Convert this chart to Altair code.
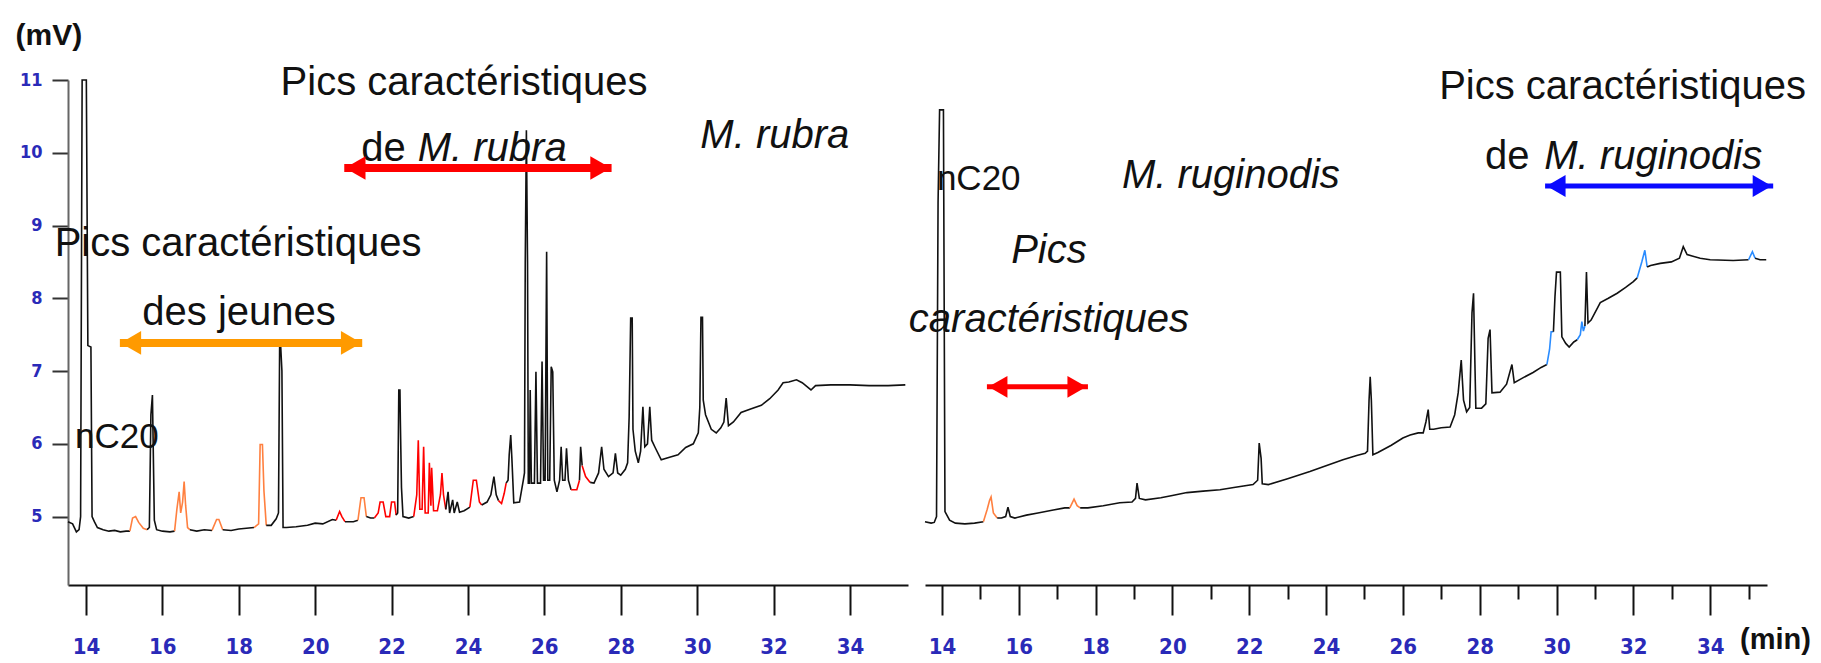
import altair as alt
import pandas as pd

# ---------------- data ----------------
# Left panel : M. rubra  (time in min, signal in mV)
left_t = [13.53, 13.65, 13.75, 13.82, 13.86, 13.90, 13.96, 14.01, 14.05, 14.13, 14.16, 14.22, 14.30,
          14.45, 14.60, 14.75, 14.90, 15.05, 15.15, 15.22, 15.30, 15.38, 15.50, 15.60, 15.66, 15.70,
          15.74, 15.79, 15.85, 16.00, 16.20, 16.32, 16.38, 16.44, 16.48, 16.53, 16.57, 16.61, 16.66,
          16.72, 16.90, 17.10, 17.30, 17.42, 17.48, 17.58, 17.80, 18.00, 18.20, 18.40, 18.52, 18.56,
          18.62, 18.66, 18.72, 18.85, 18.98, 19.04, 19.07, 19.10, 19.13, 19.16, 19.25, 19.50, 19.80,
          20.00, 20.20, 20.45, 20.55, 20.64, 20.70, 20.78, 21.00, 21.12, 21.20, 21.28, 21.34, 21.45,
          21.55, 21.65, 21.70, 21.78, 21.85, 21.95, 22.00, 22.08, 22.12, 22.16, 22.19, 22.22, 22.23,
          22.26, 22.30, 22.45, 22.58, 22.66, 22.70, 22.74, 22.80, 22.84, 22.88, 22.96, 22.99, 23.03,
          23.05, 23.10, 23.20, 23.28, 23.32, 23.36, 23.42, 23.48, 23.52, 23.60, 23.64, 23.72, 23.78,
          23.90, 24.05, 24.14, 24.22, 24.30, 24.36, 24.50, 24.60, 24.68, 24.74, 24.80, 24.88, 24.95,
          25.00, 25.05, 25.08, 25.12, 25.15, 25.20, 25.35, 25.45, 25.48, 25.50, 25.53, 25.56, 25.58,
          25.61, 25.63, 25.66, 25.74, 25.78, 25.82, 25.90, 25.94, 25.98, 26.02, 26.06, 26.09, 26.14,
          26.18, 26.22, 26.26, 26.33, 26.40, 26.44, 26.48, 26.54, 26.58, 26.63, 26.70, 26.85, 26.92,
          26.95, 26.99, 27.08, 27.20, 27.30, 27.42, 27.50, 27.56, 27.68, 27.80, 27.86, 27.92, 28.00,
          28.12, 28.18, 28.22, 28.26, 28.30, 28.32, 28.38, 28.46, 28.52, 28.58, 28.63, 28.70, 28.76,
          28.81, 28.90, 29.06, 29.30, 29.50, 29.70, 29.90, 30.03, 30.07, 30.10, 30.14, 30.16, 30.22,
          30.37, 30.50, 30.62, 30.70, 30.76, 30.82, 30.95, 31.15, 31.40, 31.68, 31.90, 32.12, 32.25,
          32.40, 32.60, 32.75, 32.98, 33.10, 33.50, 34.00, 34.50, 35.00, 35.45]
left_v = [4.93, 4.90, 4.79, 4.82, 5.00, 11.0, 11.0, 11.0, 7.35, 7.33, 5.00, 4.93, 4.85,
          4.82, 4.80, 4.81, 4.79, 4.80, 4.80, 4.98, 5.00, 4.92, 4.84, 4.82, 4.85, 6.40,
          6.67, 4.95, 4.82, 4.80, 4.79, 4.80, 5.10, 5.34, 5.05, 5.20, 5.48, 5.15, 4.85,
          4.82, 4.80, 4.82, 4.81, 4.96, 4.96, 4.82, 4.81, 4.83, 4.84, 4.85, 4.90, 5.99,
          5.99, 5.35, 4.88, 4.88, 4.97, 5.05, 7.32, 7.32, 7.00, 4.85, 4.85, 4.86, 4.88,
          4.91, 4.90, 4.96, 4.95, 5.07, 5.00, 4.93, 4.93, 4.95, 5.26, 5.26, 5.00, 4.98,
          4.98, 5.05, 5.20, 5.20, 5.00, 5.00, 5.20, 5.20, 5.02, 5.05, 6.74, 6.74, 6.33,
          5.40, 5.00, 4.98, 5.00, 5.30, 6.05, 5.10, 5.10, 5.96, 5.05, 5.05, 5.74, 5.15,
          5.67, 5.08, 5.08, 5.30, 5.60, 5.30, 5.10, 5.34, 5.05, 5.23, 5.05, 5.20, 5.06,
          5.08, 5.13, 5.50, 5.50, 5.20, 5.16, 5.20, 5.30, 5.55, 5.30, 5.22, 5.18, 5.32,
          5.46, 5.50, 5.85, 6.12, 5.80, 5.19, 5.20, 5.50, 5.60, 8.49, 10.31, 8.49, 5.46,
          5.46, 6.74, 5.46, 5.46, 6.99, 5.46, 5.46, 7.13, 5.50, 5.50, 8.64, 5.50, 5.50,
          7.06, 6.99, 5.50, 5.34, 5.50, 5.96, 5.50, 5.50, 5.94, 5.50, 5.37, 5.37, 5.50,
          5.96, 5.70, 5.55, 5.47, 5.46, 5.60, 5.96, 5.65, 5.55, 5.60, 5.87, 5.60, 5.57,
          5.65, 5.74, 6.37, 7.73, 7.73, 6.20, 5.90, 5.74, 5.90, 6.51, 5.96, 6.00, 6.51,
          6.05, 5.95, 5.78, 5.82, 5.85, 5.95, 6.00, 6.15, 6.50, 7.74, 7.74, 6.60, 6.40,
          6.20, 6.15, 6.22, 6.30, 6.63, 6.25, 6.30, 6.43, 6.48, 6.53, 6.62, 6.74, 6.84,
          6.85, 6.88, 6.84, 6.74, 6.80, 6.81, 6.81, 6.80, 6.80, 6.81]
left_orange = [(15.15, 15.60), (16.32, 16.72), (17.30, 17.58), (18.40, 18.72), (21.12, 21.34)]
left_red = [(20.55, 20.78), (21.55, 22.12), (22.58, 23.42), (24.05, 24.36), (24.80, 25.00),
            (26.70, 26.92), (26.99, 27.20)]

# Right panel : M. ruginodis
right_t = [13.56, 13.72, 13.80, 13.86, 13.90, 13.94, 14.04, 14.08, 14.20, 14.35, 14.60, 14.85,
           15.08, 15.18, 15.24, 15.28, 15.34, 15.44, 15.55, 15.66, 15.72, 15.78, 15.90, 16.20,
           16.50, 16.90, 17.20, 17.33, 17.44, 17.52, 17.60, 17.80, 18.20, 18.63, 18.95, 19.04,
           19.08, 19.14, 19.30, 19.70, 20.00, 20.38, 20.80, 21.24, 21.60, 22.10, 22.22, 22.26,
           22.31, 22.34, 22.50, 23.00, 23.58, 24.00, 24.44, 24.80, 25.02, 25.08, 25.12, 25.15,
           25.18, 25.22, 25.35, 25.70, 26.00, 26.19, 26.40, 26.53, 26.60, 26.66, 26.70, 26.80,
           27.00, 27.23, 27.35, 27.44, 27.52, 27.58, 27.66, 27.74, 27.80, 27.84, 27.88, 27.90,
           28.05, 28.16, 28.22, 28.27, 28.32, 28.53, 28.70, 28.84, 28.90, 29.10, 29.39, 29.60,
           29.75, 29.82, 29.86, 29.92, 29.96, 30.00, 30.10, 30.14, 30.24, 30.33, 30.45, 30.54,
           30.62, 30.66, 30.70, 30.74, 30.78, 30.82, 30.90, 31.14, 31.35, 31.58, 31.80, 32.00,
           32.10, 32.22, 32.30, 32.36, 32.45, 32.70, 32.99, 33.20, 33.30, 33.40, 33.74, 34.00,
           34.60, 35.00, 35.10, 35.17, 35.30, 35.46]
right_v = [4.93, 4.91, 4.92, 5.00, 9.31, 10.59, 10.59, 5.07, 4.95, 4.91, 4.90, 4.91,
           4.93, 5.10, 5.22, 5.27, 5.05, 4.98, 4.98, 5.00, 5.13, 5.00, 4.98, 5.02,
           5.05, 5.09, 5.12, 5.12, 5.24, 5.15, 5.12, 5.12, 5.15, 5.19, 5.20, 5.25,
           5.46, 5.25, 5.23, 5.26, 5.29, 5.33, 5.35, 5.37, 5.40, 5.44, 5.50, 6.01,
           5.80, 5.45, 5.44, 5.52, 5.62, 5.70, 5.78, 5.84, 5.87, 5.90, 6.60, 6.92,
           6.60, 5.85, 5.88, 5.98, 6.08, 6.12, 6.15, 6.15, 6.30, 6.47, 6.20, 6.20,
           6.22, 6.23, 6.40, 6.70, 7.15, 6.60, 6.44, 6.50, 7.80, 8.07, 7.00, 6.49,
           6.49, 6.55, 7.45, 7.57, 6.70, 6.71, 6.82, 7.09, 6.84, 6.90, 6.98, 7.05,
           7.09, 7.30, 7.54, 7.54, 8.02, 8.36, 8.36, 7.47, 7.38, 7.33, 7.40, 7.43,
           7.50, 7.68, 7.55, 7.62, 8.36, 7.66, 7.70, 7.94, 8.00, 8.07, 8.15, 8.23,
           8.28, 8.50, 8.66, 8.43, 8.45, 8.48, 8.50, 8.55, 8.71, 8.60, 8.55, 8.53,
           8.52, 8.53, 8.64, 8.55, 8.53, 8.53]
right_orange = [(15.08, 15.44), (17.33, 17.60)]
right_blue = [(29.75, 29.92), (30.54, 30.74), (32.10, 32.36), (35.00, 35.17)]

x_ticks = list(range(14, 36))
y_ticks = [5, 6, 7, 8, 9, 10, 11]

# ---------------- styling ----------------
BLACK = "#111111"
ORANGE_TRACE = "#ff8040"
RED = "#ff0000"
BLUE_TRACE = "#2a8cff"
ARROW_ORANGE = "#ff9a00"
ARROW_BLUE = "#0a0aff"
TICK_BLUE = "#2a2ab8"
FONT = "Liberation Sans, Arial, sans-serif"
NARROW = "DejaVu Sans Condensed, Liberation Sans Narrow, Arial Narrow, Liberation Sans, sans-serif"

Y_DOMAIN = [4.06, 11.0]


def trace_frame(ts, vs, ranges):
    """split the trace into runs of the same colour (shared endpoints)."""
    rows, seg, cur = [], 0, None
    for i in range(len(ts) - 1):
        mid = (ts[i] + ts[i + 1]) / 2
        col = BLACK
        for a, b, c in ranges:
            if a <= mid <= b:
                col = c
        if col != cur:
            seg += 1
            cur = col
            rows.append(dict(t=ts[i], v=vs[i], seg=seg, col=col, i=i))
        rows.append(dict(t=ts[i + 1], v=vs[i + 1], seg=seg, col=col, i=i + 1))
    return pd.DataFrame(rows)


def x_axis():
    return alt.Axis(
        values=x_ticks,
        labelExpr="datum.value % 2 == 0 ? datum.label : ''",
        tickSize={"condition": {"test": "datum.value % 2 == 0", "value": 30}, "value": 14},
        tickWidth=2, tickColor=BLACK, domainColor=BLACK, domainWidth=2,
        labelColor=TICK_BLUE, labelFont=NARROW, labelFontSize=22, labelFontWeight="bold",
        labelPadding=21, labelOverlap=False, labelFlush=False, grid=False,
        title=None)


def trace_layer(df, domain, yaxis):
    return alt.Chart(df).mark_line(strokeWidth=1.6, strokeJoin="miter").encode(
        x=alt.X("t:Q", scale=alt.Scale(domain=domain, nice=False, zero=False), axis=x_axis()),
        y=alt.Y("v:Q", scale=alt.Scale(domain=Y_DOMAIN, nice=False, zero=False), axis=yaxis),
        color=alt.Color("col:N", scale=None),
        detail="seg:N",
        order="i:Q",
    )


def text(txt, t, v, size=40, italic=False, align="center", bold=False, baseline="alphabetic"):
    return alt.Chart(pd.DataFrame({"t": [t], "v": [v], "txt": [txt]})).mark_text(
        font=FONT, fontSize=size, fontStyle="italic" if italic else "normal",
        fontWeight="bold" if bold else "normal",
        align=align, baseline=baseline, color=BLACK,
    ).encode(x="t:Q", y="v:Q", text="txt:N")


def arrow(t1, t2, v, color, width, head=560):
    d = pd.DataFrame({"t": [t1], "t2": [t2], "v": [v]})
    base = alt.Chart(d)
    shaft = base.mark_rule(strokeWidth=width, color=color).encode(
        x="t:Q", x2="t2:Q", y="v:Q")
    left = base.mark_point(shape="triangle-left", filled=True, opacity=1, size=head,
                           color=color, xOffset=11, strokeWidth=0).encode(
        x="t:Q", y="v:Q")
    right = base.mark_point(shape="triangle-right", filled=True, opacity=1, size=head,
                            color=color, xOffset=-11, strokeWidth=0).encode(
        x=alt.X("t2:Q", title=None), y="v:Q")
    return [shaft, left, right]


left_df = trace_frame(left_t, left_v,
                      [(a, b, ORANGE_TRACE) for a, b in left_orange] +
                      [(a, b, RED) for a, b in left_red])
right_df = trace_frame(right_t, right_v,
                       [(a, b, ORANGE_TRACE) for a, b in right_orange] +
                       [(a, b, BLUE_TRACE) for a, b in right_blue])

y_axis_left = alt.Axis(
    values=y_ticks, format="d", tickSize=16, tickWidth=2, tickColor="#333333",
    domainColor="#666666", domainWidth=2, labelColor=TICK_BLUE, labelFont=NARROW,
    labelFontSize=18, labelFontWeight="bold", labelPadding=10, grid=False,
    title="(mV)", titleAngle=0, titleX=-53, titleY=-36, titleAlign="left",
    titleBaseline="alphabetic", titleFont=FONT, titleFontSize=30, titleFontWeight="bold",
    titleColor=BLACK)

left_layers = [trace_layer(left_df, [13.53, 35.52], y_axis_left)]
left_layers += [
    text("Pics caractéristiques", 23.896, 10.794),
    text("de ", 21.206, 9.887, align="left"),
    text("M. rubra", 26.585, 9.887, italic=True, align="right"),
    text("M. rubra", 30.084, 10.066, italic=True, align="left"),
    text("Pics caractéristiques", 17.982, 8.582),
    text("des jeunes", 18.008, 7.635),
    text("nC20", 13.713, 5.945, size=35, align="left"),
]
left_layers += arrow(20.762, 27.76, 9.791, RED, 8)
left_layers += arrow(14.888, 21.232, 7.387, ARROW_ORANGE, 8)

left = alt.layer(*left_layers).properties(width=840, height=505)

right_layers = [trace_layer(right_df, [13.56, 35.48], None)]
right_layers += [
    text("nC20", 13.87, 9.489, size=35, align="left"),
    text("M. ruginodis", 18.6875, 9.516, italic=True, align="left"),
    text("Pics", 16.786, 8.486, italic=True),
    text("caractéristiques", 16.786, 7.538, italic=True),
    text("Pics caractéristiques", 31.72, 10.739),
    text("de ", 28.141, 9.777, align="left"),
    text("M. ruginodis", 35.354, 9.777, italic=True, align="right"),
    text("(min)", 34.78, 3.31, size=29, align="left", bold=True, baseline="middle"),
]
right_layers += arrow(15.172, 17.802, 6.783, RED, 5, head=480)
right_layers += arrow(29.703, 35.641, 9.544, ARROW_BLUE, 5, head=480)

right = alt.layer(*right_layers).properties(width=842, height=505)

chart = alt.hconcat(left, right, spacing=17, bounds="flush").properties(
    padding={"left": 7, "top": 12, "right": 0, "bottom": 0},
    background="white",
).configure_view(stroke=None)

chart.save("out.html", embed_options={"renderer": "svg", "actions": False})
